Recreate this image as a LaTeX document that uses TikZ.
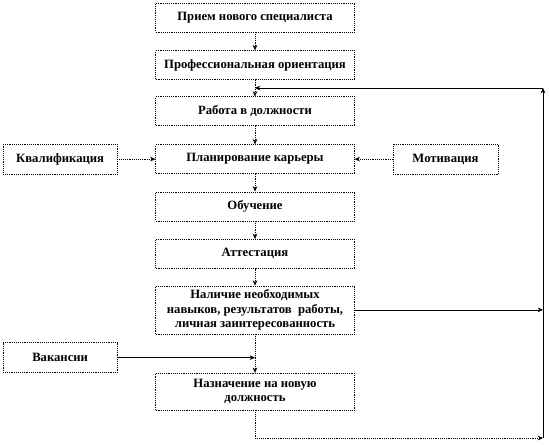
\documentclass[tikz,border=0pt]{standalone}
\usepackage{fontspec}
\setmainfont{Liberation Serif}
\usepackage{tikz}
\usetikzlibrary{arrows.meta,positioning,calc}

\begin{document}
\begin{tikzpicture}[
  x=0.75pt, y=-0.75pt,
  every node/.style={font=\fontsize{9.5}{11}\selectfont\bfseries},
  stage/.style={draw, densely dotted, minimum width=149pt, minimum height=21.75pt, inner sep=1pt, align=center},
  sidebox/.style={draw, densely dotted, minimum width=85.5pt, minimum height=22.5pt, inner sep=1pt},
  flow/.style={densely dotted, -{Stealth[length=4pt,width=3.5pt]}},
  fback/.style={-{Stealth[length=4pt,width=3.5pt]}},
  node distance=14pt,
]
\useasboundingbox (0,0) rectangle (549,444);
% main column
\node[stage] (hire) at (255,17.5) {Прием нового специалиста};
\node[stage, below=13.5pt of hire] (orient) {Профессиональная ориентация};
\node[stage, below=12.5pt of orient] (job) {Работа в должности};
\node[stage, below=13.75pt of job] (plan) {Планирование карьеры};
\node[stage, below=13.25pt of plan] (train) {Обучение};
\node[stage, below=13.5pt of train] (attest) {Аттестация};
\node[stage, below=12.75pt of attest, minimum height=36pt] (skills) {Наличие необходимых\\навыков, результатов\ \ работы,\\личная заинтересованность};
\node[stage, below=29pt of skills, minimum height=27.75pt] (promo) {Назначение на новую\\должность};
% side boxes
\node[sidebox, left=28.5pt of plan] (qual) {Квалификация};
\node[sidebox, right=28.5pt of plan, minimum width=79pt] (motiv) {Мотивация};
\node[sidebox, below=126pt of qual] (vac) {Вакансии};
% feedback loop corners
\coordinate (rtop) at (543,88);
\coordinate (rbot) at (543,438);
\draw[flow] (hire) -- (orient);
\draw[flow] (orient) -- (job);
\draw[flow] (job) -- (plan);
\draw[flow] (plan) -- (train);
\draw[flow] (train) -- (attest);
\draw[flow] (attest) -- (skills);
\draw[flow] (skills) -- (promo);
\draw[flow] (qual) -- (plan);
\draw[flow] (motiv) -- (plan);
\draw[fback] (vac.east) -- (vac.east -| promo.north);
\draw[fback] (skills.east) -- (skills.east -| rbot);
\draw[flow] (promo.south) |- (rbot);
\draw[fback] (rbot) -- (rtop);
\draw[fback] (rtop) -- (rtop -| job.north);
\end{tikzpicture}
\end{document}
